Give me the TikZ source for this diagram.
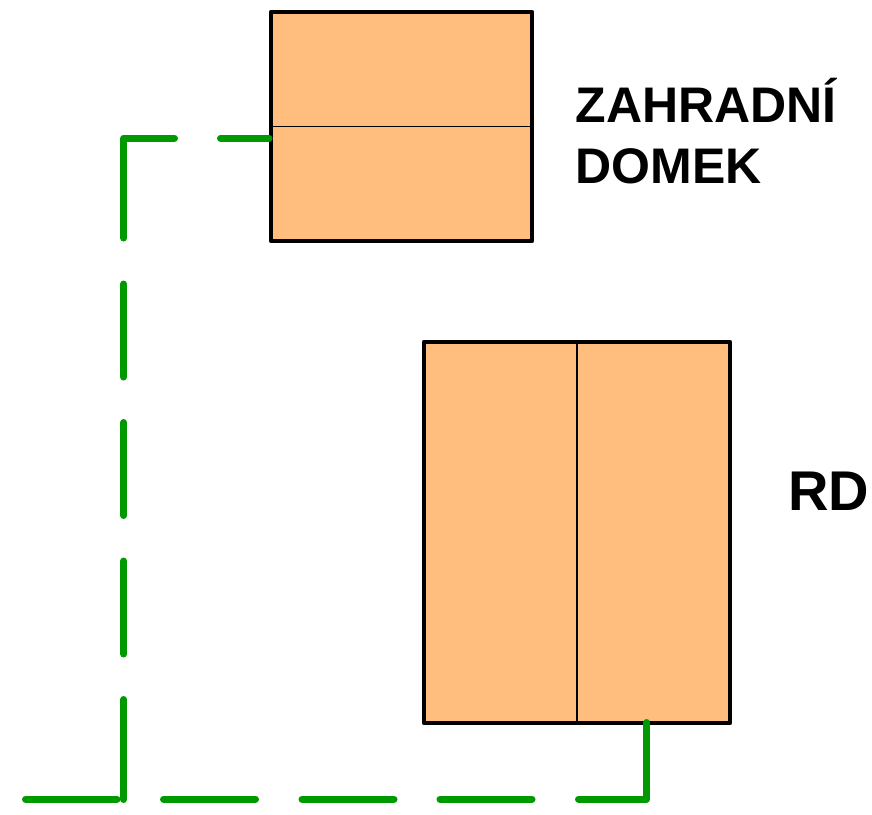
\documentclass[tikz,border=0pt]{standalone}
\usepackage{fontspec}
\setmainfont{Liberation Sans}
\definecolor{hs}{HTML}{FFBE7D}
\definecolor{gr}{HTML}{009900}
\tikzset{
  x=1pt,y=-1pt,
  housebox/.style={draw=black,line width=4.4pt,fill=hs,line join=round},
  thinline/.style={draw=black,line width=1.3pt},
  pipe/.style={draw=gr,line width=7pt,line cap=round,line join=round},
  lbl/.style={font=\fontsize{50}{54}\selectfont\bfseries,inner sep=0pt,anchor=base west,align=left}
}
\begin{document}
\begin{tikzpicture}
\useasboundingbox (0,0) rectangle (872,814);
\coordinate (a1) at (271,12); \coordinate (a2) at (532,241);
\coordinate (b1) at (424,342); \coordinate (b2) at (730,723);
\path[housebox] (a1) rectangle (a2);
\path[housebox] (b1) rectangle (b2);
\coordinate (a3) at (271,126.5); \coordinate (a4) at (532,126.5);
\coordinate (b3) at (577,342); \coordinate (b4) at (577,723);
\draw[thinline] (a3) -- (a4);
\draw[thinline] (b3) -- (b4);
\node[lbl] (t1) at (575.5,122) {ZAHRADNÍ};
\node[lbl] (t2) at (575.5,183.5) {DOMEK};
\node[lbl,font=\fontsize{56}{60}\selectfont\bfseries] (t3) at (788,510) {RD};
\coordinate (p0) at (269,138);
\coordinate (p1) at (220.5,138);
\coordinate (p2) at (174.5,138);
\coordinate (p3) at (123.7,138);
\coordinate (p4) at (123.7,238);
\draw[pipe] (p0) -- (p1);
\draw[pipe] (p2) -- (p3) -- (p4);
\foreach \s/\e in {284/377,422.5/515.5,561/654,699.5/799.5}{
  \draw[pipe] (123.7,\s) -- (123.7,\e);
}
\foreach \s/\e in {25.5/117,163.5/255.5,302/394,440/532}{
  \draw[pipe] (\s,799) -- (\e,799);
}
\coordinate (p5) at (578.5,799);
\coordinate (p6) at (646.7,799);
\coordinate (p7) at (646.7,722.5);
\draw[pipe] (p5) -- (p6) -- (p7);
\end{tikzpicture}
\end{document}
